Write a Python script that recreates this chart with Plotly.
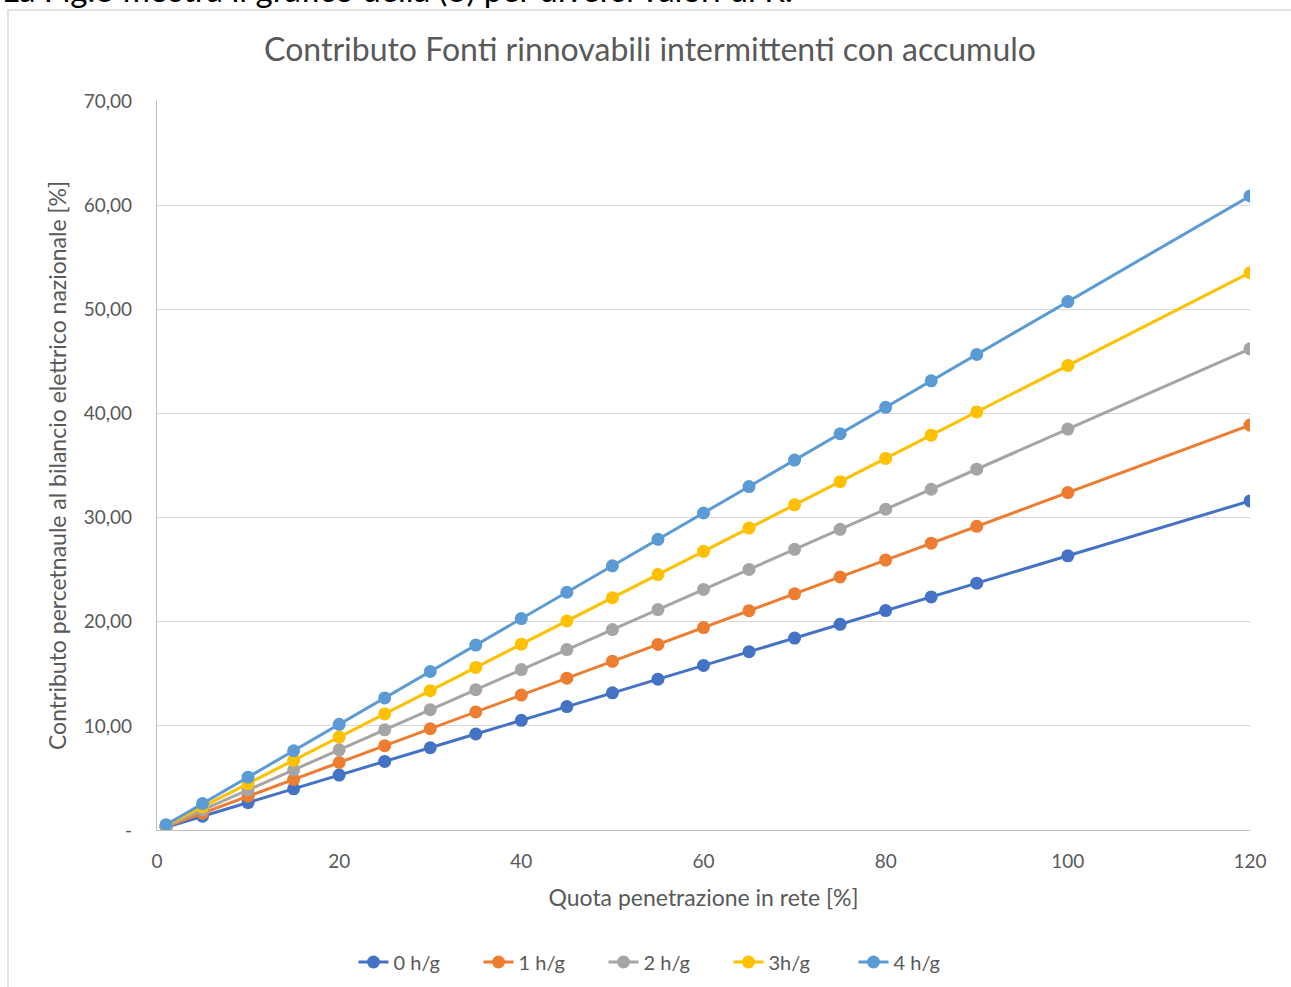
import plotly.graph_objects as go

# Quota di penetrazione in rete [%]
quota = [1, 5, 10, 15, 20, 25, 30, 35, 40, 45, 50, 55, 60, 65, 70, 75, 80, 85, 90, 100, 120]

# Contributo percentuale al bilancio elettrico nazionale [%] per ore di accumulo
acc_0h = [0.27, 1.33, 2.63, 3.95, 5.27, 6.58, 7.90, 9.22, 10.53, 11.85, 13.17, 14.48, 15.80,
          17.12, 18.43, 19.75, 21.07, 22.38, 23.70, 26.33, 31.60]
acc_1h = [0.32, 1.62, 3.24, 4.86, 6.48, 8.10, 9.72, 11.34, 12.96, 14.58, 16.20, 17.82, 19.44,
          21.06, 22.68, 24.30, 25.92, 27.54, 29.16, 32.40, 38.88]
acc_2h = [0.38, 1.92, 3.85, 5.77, 7.70, 9.62, 11.55, 13.47, 15.40, 17.32, 19.25, 21.17, 23.10,
          25.02, 26.95, 28.87, 30.80, 32.72, 34.65, 38.50, 46.20]
acc_3h = [0.45, 2.23, 4.46, 6.69, 8.92, 11.15, 13.38, 15.61, 17.84, 20.07, 22.30, 24.53, 26.76,
          28.99, 31.22, 33.45, 35.68, 37.91, 40.14, 44.60, 53.52]
acc_4h = [0.51, 2.54, 5.07, 7.61, 10.15, 12.68, 15.22, 17.76, 20.30, 22.83, 25.37, 27.91, 30.44,
          32.98, 35.52, 38.05, 40.59, 43.13, 45.66, 50.74, 60.88]

series_names = ["0 h/g", "1 h/g", "2 h/g", "3h/g", "4 h/g"]
series_values = [acc_0h, acc_1h, acc_2h, acc_3h, acc_4h]
series_colors = ["#4472C4", "#ED7D31", "#A5A5A5", "#FFC000", "#5B9BD5"]

y_ticks = [0, 10, 20, 30, 40, 50, 60, 70]
y_ticktext = ["-", "10,00", "20,00", "30,00", "40,00", "50,00", "60,00", "70,00"]
x_ticks = [0, 20, 40, 60, 80, 100, 120]

FONT = "Lato"
GREY = "#595959"

fig = go.Figure()
for name, vals, col in zip(series_names, series_values, series_colors):
    fig.add_trace(go.Scatter(
        x=quota, y=vals, name=name, mode="lines+markers",
        line=dict(color=col, width=3),
        marker=dict(color=col, size=13),
    ))

W, H = 1291, 987
L, R, T, B = 157, 41, 101, 157
pw, ph = W - L - R, H - T - B


def px_x(p):
    return (p - L) / pw


def px_y(p):
    return (H - B - p) / ph


fig.update_layout(
    width=W, height=H,
    margin=dict(l=L, r=R, t=T, b=B, pad=0, autoexpand=False),
    paper_bgcolor="white", plot_bgcolor="white",
    font=dict(family=FONT, color=GREY),
    title=dict(
        text="Contributo Fonti rinnovabili intermittenti con accumulo",
        x=px_x(650), xanchor="center", xref="paper",
        y=1 - 50 / H, yanchor="middle", yref="container",
        font=dict(family=FONT, size=32, color=GREY),
    ),
    xaxis=dict(
        range=[0, 120], tickvals=x_ticks, showgrid=False, zeroline=False,
        showline=True, linecolor="#BFBFBF", linewidth=1.3,
        ticks="", tickfont=dict(size=19, color=GREY), ticklabelstandoff=14,
        title=dict(text="Quota penetrazione in rete [%]", font=dict(size=23, color=GREY), standoff=18),
    ),
    yaxis=dict(
        range=[0, 70], tickvals=y_ticks, ticktext=y_ticktext,
        showgrid=True, gridcolor="#D9D9D9", gridwidth=1.3, zeroline=False,
        showline=True, linecolor="#BFBFBF", linewidth=1.3,
        ticks="", tickfont=dict(size=19, color=GREY), ticklabelstandoff=20,
        title=dict(text="Contributo percetnaule al bilancio elettrico nazionale [%]",
                   font=dict(size=23, color=GREY), standoff=10),
    ),
    legend=dict(
        orientation="h", x=px_x(666), xanchor="center", y=px_y(962), yanchor="middle",
        font=dict(size=20, color=GREY), tracegroupgap=0,
        entrywidth=80, entrywidthmode="pixels",
    ),
    showlegend=True,
)

# Chart frame
fig.add_shape(type="rect", xref="paper", yref="paper",
              x0=px_x(8), x1=px_x(1300), y0=px_y(1000), y1=px_y(10),
              line=dict(color="#D9D9D9", width=1.5), fillcolor="rgba(0,0,0,0)", layer="below")

# Surrounding document text above the chart
fig.add_annotation(
    text="La Fig.3 mostra il grafico della (3) per diversi valori di R.",
    xref="paper", yref="paper", x=px_x(0), xanchor="left",
    y=px_y(-11), yanchor="middle", showarrow=False,
    font=dict(family=FONT, size=33, color="#000000"),
)

fig.write_html("out.html")
